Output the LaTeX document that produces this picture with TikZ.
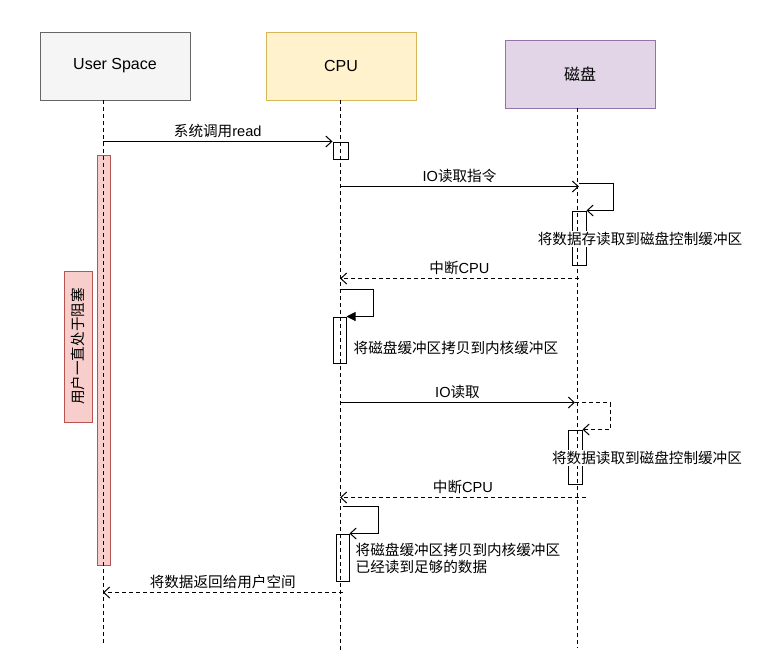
\documentclass[tikz,border=0pt]{standalone}
\usepackage{fontspec}
\setmainfont{Liberation Sans}
\newfontfamily\cjk{Noto Sans CJK SC}
\usepackage{xcolor}
\usepackage{tikz}
\usetikzlibrary{
  arrows.meta,
  positioning,
}
\newcommand{\zh}[1]{{\cjk #1}}
\definecolor{usfill}{HTML}{F5F5F5}
\definecolor{usdraw}{HTML}{666666}
\definecolor{cpufill}{HTML}{FFF2CC}
\definecolor{cpudraw}{HTML}{D6B656}
\definecolor{diskfill}{HTML}{E1D5E7}
\definecolor{diskdraw}{HTML}{9673A6}
\definecolor{waitfill}{HTML}{F8CECC}
\definecolor{waitdraw}{HTML}{B85450}

\begin{document}
\begin{tikzpicture}[
  x=1pt, y=-1pt,
  actor/.style={
    draw, line width=1pt, minimum width=150pt, minimum height=68pt,
    font=\fontsize{16}{19}\selectfont,
  },
  life/.style={line width=1pt, dash pattern=on 4pt off 3pt},
  act/.style={draw, line width=1pt, minimum width=14pt, inner sep=0pt},
  msg/.style={-{Straight Barb[length=6pt,width=11pt]}, line width=1pt},
  ret/.style={msg, dash pattern=on 4pt off 3pt},
  call/.style={-{Triangle[length=9pt,width=9pt]}, line width=1pt},
  note/.style={font=\fontsize{14.6}{17}\selectfont, inner sep=1pt},
]
\useasboundingbox (0,0) rectangle (759,670);

% ── Participants ────────────────────────────────────────────────────
\node[actor, fill=usfill, draw=usdraw] (us) at (115,66) {User Space};
\node[actor, fill=cpufill, draw=cpudraw] (cpu) at (341,66) {CPU};
\node[actor, fill=diskfill, draw=diskdraw] (disk) at (580,74) {\zh{磁盘}};

\coordinate (ustop) at (103,100);
\coordinate (usend) at (103,645);
\coordinate (cputop) at (340,100);
\coordinate (cpuend) at (340,650);
\coordinate (disktop) at (577,108);
\coordinate (diskend) at (577,648);

% ── Blocking bar ────────────────────────────────────────────────────
\node[draw=waitdraw, fill=waitfill, line width=1pt, minimum width=13pt,
      minimum height=410pt, inner sep=0pt] (wait) at (103.5,360) {};
\node[note, draw=waitdraw, fill=waitfill, line width=1pt, rotate=90,
      minimum width=151pt, minimum height=28pt] (waitlbl) at (78,346.5)
  {\zh{用户一直处于阻塞}};

% ── Lifelines ───────────────────────────────────────────────────────
\draw[life] (ustop) -- (usend);
\draw[life] (cputop) -- (cpuend);
\draw[life] (disktop) -- (diskend);

% ── Activations ─────────────────────────────────────────────────────
\node[act, minimum width=15pt, minimum height=17pt] (act1) at (340.5,150.5) {};
\node[act, minimum height=54pt] (dact1) at (579,238) {};
\node[act, minimum width=13pt, minimum height=46pt] (act2) at (339.5,340) {};
\node[act, minimum height=54pt] (dact2) at (575,457) {};
\node[act, minimum width=13pt, minimum height=47pt] (act3) at (342.5,557.5) {};

% ── Messages ────────────────────────────────────────────────────────
\draw[msg] (ustop |- act1.north) -- (act1.north west)
  node[midway, above=2pt, note] {\zh{系统调用}read};

\coordinate (io1) at ([yshift=24pt]dact1.north);
\draw[msg] (cputop |- io1) -- (io1)
  node[midway, above=2pt, note] {IO\zh{读取指令}};
\draw[msg] ([yshift=27pt]dact1.north) -- ++(34,0) |- (dact1.north east);
\node[note, fill=white] (dl1) at (640,239) {\zh{将数据存读取到磁盘控制缓冲区}};

\coordinate (irq1) at ([yshift=-13pt]dact1.south);
\draw[ret] (irq1) -- (cputop |- irq1)
  node[midway, above=2pt, note] {\zh{中断}CPU};

\draw[call] ([yshift=27pt]act2.north) -- ++(34,0) |- (act2.north east);
\node[note, right=6pt of act2, yshift=-8pt] (cl1) {\zh{将磁盘缓冲区拷贝到内核缓冲区}};

\coordinate (io2) at ([yshift=27pt]dact2.north);
\draw[msg] (cputop |- io2) -- (io2)
  node[midway, above=2pt, note] {IO\zh{读取}};
\draw[ret] (io2) -- ++(35,0) |- (dact2.north east);
\node[note, fill=white] (dl2) at (647,458) {\zh{将数据读取到磁盘控制缓冲区}};

\coordinate (irq2) at ([xshift=11pt,yshift=-13pt]dact2.south);
\draw[ret] (irq2) -- (cputop |- irq2)
  node[midway, above=2pt, note] {\zh{中断}CPU};

\draw[msg] ([yshift=27pt]act3.north) -- ++(36,0) |- (act3.north east);
\node[note, right=5pt of act3, yshift=-1pt, align=left] (cl2)
  {\zh{将磁盘缓冲区拷贝到内核缓冲区}\\\zh{已经读到足够的数据}};

\coordinate (back) at ([yshift=-11pt]act3.south);
\draw[ret] (back) -- (ustop |- back)
  node[midway, above=2pt, note] {\zh{将数据返回给用户空间}};

\end{tikzpicture}
\end{document}
